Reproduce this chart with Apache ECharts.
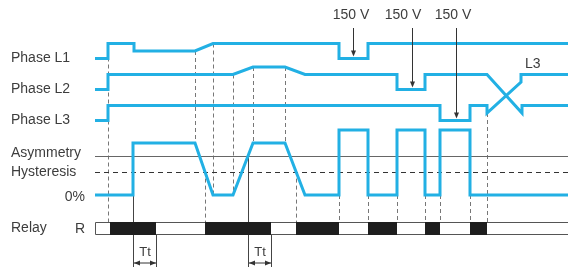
<!DOCTYPE html>
<html>
<head>
<meta charset="utf-8">
<script src="https://cdn.jsdelivr.net/npm/echarts@6/dist/echarts.min.js"></script>
<style>
  html, body { margin: 0; padding: 0; background: #fff; }
  #main { width: 568px; height: 268px; }
</style>
</head>
<body>
<div id="main"></div>
<script>
// ---- data (time in ms units, voltages in V, asymmetry in %) ----
const T_END = 473;
// [t, volts, row] - row only given once the phase sequence swaps
const phaseL1 = [[0,150],[13,150],[13,230],[39,230],[39,190],[100,190],[118,230],[244,230],[244,150],[273,150],[273,230],[473,230]];
const phaseL2 = [[0,150],[13,150],[13,230],[138,230],[158,270],[190,270],[210,230],[302,230],[302,150],[330,150],[330,230],[392,230],[427,190,2],[427,230,2],[473,230,2]];
const phaseL3 = [[0,150],[13,150],[13,230],[345,230],[345,150],[375,150],[375,230],[392,230],[392,190],[426,190,1],[426,230,1],[473,230,1]];
const asymPct = [[0,0],[38,0],[38,20],[100,20],[118,0],[138,0],[158,20],[190,20],[210,0],[244,0],[244,25],[273,25],[273,0],[302,0],[302,25],[330,25],[330,0],[345,0],[345,25],[375,25],[375,0],[473,0]];
const ASYM_LIMIT = 15;
const HYST_LIMIT = 9;
const relayOn = [[15,61],[110,176],[201,244],[273,302],[330,345],[375,392]];
const delayTt = [[38,61,20],[153,176,15]]; // start, end, asym level where Tt starts
const dipArrows = [[258,0,256],[317,1,308],[361,2,358]]; // t, phase row, label t
const phaseNames = ['Phase L1', 'Phase L2', 'Phase L3'];

// ---- layout ----
const ROW_Y = [43.5, 74.5, 105.5];
const PX_PER_V = 15 / 80;
const ASYM_ZERO = 195, PX_PER_PCT = 2.6;
const RELAY_TOP = 222, RELAY_BOTTOM = 234;
const TT_Y = 263, TT_BOTTOM = 267;
const LEFT = 95;
const CYAN = '#22b0e4';
const TXT = '#3d3d3d';
const FONT = '14px "Liberation Sans", Arial, sans-serif';

const phaseY = (v, row) => ROW_Y[row] + (230 - v) * PX_PER_V;
const asymY = p => ASYM_ZERO - p * PX_PER_PCT;
const phaseSeries = (pts, row) => pts.map(p => [p[0], phaseY(p[1], p.length > 2 ? p[2] : row)]);

// guide lines [t, y1, y2, dashed]
const guides = [
  [13, phaseY(230,0), RELAY_TOP, 1],
  [100, phaseY(190,0), asymY(20), 1],
  [118, phaseY(230,0), asymY(0), 1],
  [138, phaseY(230,1), asymY(0), 1],
  [158, phaseY(270,1), asymY(20), 1],
  [190, phaseY(270,1), asymY(20), 1],
  [110, asymY(HYST_LIMIT), RELAY_TOP, 1],
  [201, asymY(HYST_LIMIT), RELAY_TOP, 1],
  [392, phaseY(190,2), RELAY_BOTTOM, 1]
];
[244, 273, 302, 330, 345, 375].forEach(t => guides.push([t, asymY(0), RELAY_TOP, 1]));
delayTt.forEach(d => {
  guides.push([d[0], asymY(d[2]), TT_BOTTOM, 0]);
  guides.push([d[1], RELAY_BOTTOM, TT_BOTTOM, 0]);
});

const chart = echarts.init(document.getElementById('main'));

const lineOf = (name, data) => ({
  name, type: 'line', data, symbol: 'none', z: 5, clip: false,
  lineStyle: { color: CYAN, width: 3, join: 'miter' }
});

const texts = [];
phaseNames.forEach((n, i) => texts.push({ text: n, x: 11, y: phaseY(150, i) }));
texts.push({ text: 'Asymmetry', x: 11, y: 153 });
texts.push({ text: 'Hysteresis', x: 11, y: 172 });
texts.push({ text: '0%', x: 85, y: 197, align: 'right' });
texts.push({ text: 'Relay', x: 11, y: 228 });
texts.push({ text: 'R', x: 85, y: 229, align: 'right' });
texts.push({ text: 'L3', x: 525, y: 64 });

const option = {
  animation: false,
  grid: { left: LEFT, right: 0, top: 0, bottom: 0 },
  xAxis: { type: 'value', min: 0, max: T_END, show: false },
  yAxis: { type: 'value', min: 0, max: 268, inverse: true, show: false },
  graphic: texts.map(t => ({
    type: 'text', x: t.x, y: t.y,
    style: { text: t.text, font: FONT, fill: TXT, textAlign: t.align || 'left', textVerticalAlign: 'middle' }
  })),
  series: [
    {
      name: 'guides', type: 'custom', z: 1, data: guides,
      renderItem: (params, api) => {
        const a = api.coord([api.value(0), api.value(1)]);
        const b = api.coord([api.value(0), api.value(2)]);
        const x = Math.round(a[0]) + 0.5;
        return { type: 'line', shape: { x1: x, y1: a[1], x2: x, y2: b[1] },
          style: { stroke: api.value(3) ? '#777' : '#444', lineWidth: 1, lineDash: api.value(3) ? [4, 3] : null } };
      }
    },
    {
      name: 'limits', type: 'custom', z: 2,
      data: [[asymY(ASYM_LIMIT), 0], [asymY(HYST_LIMIT), 1]],
      renderItem: (params, api) => {
        const a = api.coord([0, api.value(0)]);
        const b = api.coord([T_END, api.value(0)]);
        const y = Math.round(a[1]) + 0.5;
        return { type: 'line', shape: { x1: a[0], y1: y, x2: b[0], y2: y },
          style: { stroke: api.value(1) ? '#333' : '#666', lineWidth: 1, lineDash: api.value(1) ? [5, 4] : null } };
      }
    },
    {
      name: 'relayFrame', type: 'custom', z: 2, data: [[0, T_END + 2]],
      renderItem: (params, api) => {
        const a = api.coord([api.value(0), RELAY_TOP]);
        const b = api.coord([api.value(1), RELAY_BOTTOM]);
        return { type: 'rect', shape: { x: a[0] + 0.5, y: a[1] + 0.5, width: b[0] - a[0], height: b[1] - a[1] },
          style: { fill: '#fff', stroke: '#555', lineWidth: 1 } };
      }
    },
    {
      name: 'relay', type: 'custom', z: 3, data: relayOn,
      renderItem: (params, api) => {
        const a = api.coord([api.value(0), RELAY_TOP]);
        const b = api.coord([api.value(1), RELAY_BOTTOM]);
        return { type: 'rect', shape: { x: a[0], y: a[1], width: b[0] - a[0], height: b[1] - a[1] + 1 },
          style: { fill: '#1e1e1e' } };
      }
    },
    lineOf('L1', phaseSeries(phaseL1, 0)),
    lineOf('L2', phaseSeries(phaseL2, 1)),
    lineOf('L3', phaseSeries(phaseL3, 2)),
    lineOf('Asymmetry', asymPct.map(p => [p[0], asymY(p[1])])),
    {
      name: 'dips', type: 'custom', z: 6,
      data: dipArrows.map(d => [d[0], 28, phaseY(150, d[1]) - 2, d[2]]),
      renderItem: (params, api) => {
        const a = api.coord([api.value(0), api.value(1)]);
        const b = api.coord([api.value(0), api.value(2)]);
        const l = api.coord([api.value(3), 15]);
        const x = Math.round(a[0]) + 0.5;
        return { type: 'group', children: [
          { type: 'line', shape: { x1: x, y1: a[1], x2: x, y2: b[1] - 5 }, style: { stroke: '#333', lineWidth: 1 } },
          { type: 'polygon', shape: { points: [[x - 2.5, b[1] - 6], [x + 2.5, b[1] - 6], [x, b[1]]] }, style: { fill: '#333' } },
          { type: 'text', x: l[0], y: l[1], style: { text: '150 V', font: FONT, fill: TXT, textAlign: 'center', textVerticalAlign: 'middle' } }
        ] };
      }
    },
    {
      name: 'Tt', type: 'custom', z: 6, data: delayTt,
      renderItem: (params, api) => {
        const a = api.coord([api.value(0), TT_Y]);
        const b = api.coord([api.value(1), TT_Y]);
        const x1 = Math.round(a[0]) + 1, x2 = Math.round(b[0]), y = a[1];
        return { type: 'group', children: [
          { type: 'line', shape: { x1: x1, y1: y, x2: x2, y2: y }, style: { stroke: '#333', lineWidth: 1 } },
          { type: 'polygon', shape: { points: [[x1, y], [x1 + 6, y - 2.5], [x1 + 6, y + 2.5]] }, style: { fill: '#333' } },
          { type: 'polygon', shape: { points: [[x2, y], [x2 - 6, y - 2.5], [x2 - 6, y + 2.5]] }, style: { fill: '#333' } },
          { type: 'text', x: (x1 + x2) / 2, y: y - 11, style: { text: 'Tt', font: '13px "Liberation Sans", Arial, sans-serif', fill: TXT, textAlign: 'center', textVerticalAlign: 'middle' } }
        ] };
      }
    }
  ]
};

chart.setOption(option);
</script>
</body>
</html>
